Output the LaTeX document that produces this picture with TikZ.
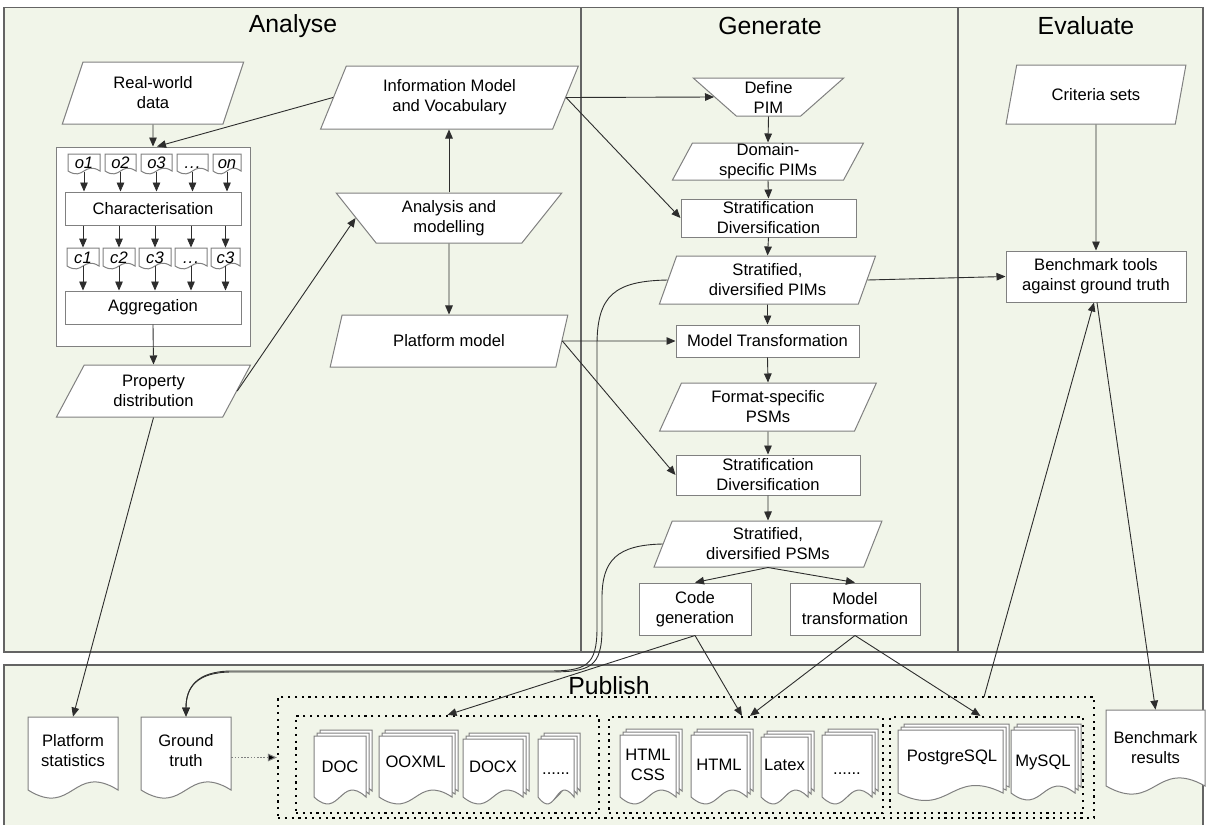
\documentclass[tikz,border=0pt]{standalone}
\usepackage{fontspec}
\setmainfont{Liberation Sans}
\usetikzlibrary{shapes.geometric,arrows.meta,calc}
\definecolor{panelfill}{RGB}{241,245,233}
\definecolor{panelline}{RGB}{100,100,100}
\definecolor{boxline}{RGB}{128,128,128}
\definecolor{conn}{RGB}{45,45,45}
\newcommand\docpg[5]{\draw[docline] (#1,#2) -- (#3,#2) -- (#3,#4) .. controls ({(#1+#3)/2},{#4-#5}) and ({(#1+#3)/2},{#4+#5}) .. (#1,#4) -- cycle;}
\newcommand\docstack[5]{%
 \docpg{#1+6}{#2}{#3}{#4-6}{#5}%
 \docpg{#1+3}{#2+3}{#3-3}{#4-3}{#5}%
 \docpg{#1}{#2+6}{#3-6}{#4}{#5}}
\tikzset{
 panel/.style={draw=panelline, fill=panelfill, line width=0.6pt},
 ptitle/.style={font=\fontsize{12.4}{14}\selectfont, inner sep=0},
 txt/.style={font=\fontsize{8.3}{10}\selectfont, align=center, inner sep=0},
 box/.style={txt, draw=boxline, fill=white, line width=0.5pt},
 rbox/.style={box, rectangle},
 para/.style 2 args={box, trapezium, trapezium stretches=true, trapezium left angle=#1, trapezium right angle=#2},
 docline/.style={draw=boxline, fill=white, line width=0.5pt},
 sdoc/.style={font=\fontsize{8.3}{10}\selectfont\itshape, inner sep=0, text height=6pt, text depth=0pt, minimum width=15pt, minimum height=9pt},
 dbox/.style={draw=black, line width=1.1pt, dash pattern=on 1.1pt off 2.3pt, inner sep=0},
 ln/.style={draw=conn, line width=0.45pt},
 arr/.style={ln, -{Triangle[length=4.5pt,width=3.8pt]}},
 dotarr/.style={draw=gray, line width=0.5pt, dash pattern=on 0.8pt off 0.8pt, -{Triangle[length=4.5pt,width=3.8pt,fill=black]}},
}
\begin{document}
\begin{tikzpicture}[x=0.5pt,y=-0.5pt]
\useasboundingbox (0,0) rectangle (1207,825);
% panels
\path[panel] (4,7.5) rectangle (581,652);
\path[panel] (581,7.5) rectangle (958,652);
\path[panel] (958,7.5) rectangle (1203,652);
\path[panel] (4,665) rectangle (1203,832);
\node[ptitle] (tA) at (293,26) {Analyse};
\node[ptitle] (tG) at (770,26) {Generate};
\node[ptitle] (tE) at (1086,26) {Evaluate};
\node[ptitle] (tP) at (609,686) {Publish};

% ---------- Analyse ----------
\node[para={70}{110}, minimum width=91pt, minimum height=31pt] (rw) at (153,93) {Real-world\\data};
\node[rbox, minimum width=97pt, minimum height=99.5pt] (cont) at (153,246.5) {};
\docpg{68}{154}{100}{171}{10}\node[sdoc] (o1) at (84,162.5) {o1};
\docpg{105}{154}{136}{171}{10}\node[sdoc] (o2) at (120.5,162.5) {o2};
\docpg{141}{154}{172}{171}{10}\node[sdoc] (o3) at (156.5,162.5) {o3};
\docpg{177}{154}{208}{171}{10}\node[sdoc] (o4) at (192.5,162.5) {.\kern0.5pt.\kern0.5pt.};
\docpg{213}{154}{241}{171}{10}\node[sdoc] (o5) at (227,162.5) {on};
\node[rbox, minimum width=88pt, minimum height=16.5pt] (char) at (153,208.5) {Characterisation};
\docpg{67}{248}{99}{266}{10}\node[sdoc] (c1) at (83,257) {c1};
\docpg{103}{248}{135}{266}{10}\node[sdoc] (c2) at (119,257) {c2};
\docpg{139}{248}{171}{266}{10}\node[sdoc] (c3) at (155,257) {c3};
\docpg{175}{248}{207}{266}{10}\node[sdoc] (c4) at (191,257) {.\kern0.5pt.\kern0.5pt.};
\docpg{211}{248}{240}{266}{10}\node[sdoc] (c5) at (225.5,257) {c3};
\node[rbox, minimum width=88pt, minimum height=16.5pt] (agg) at (153,307.5) {Aggregation};
\node[para={63}{117}, minimum width=97.5pt, minimum height=26pt] (prop) at (153.5,391) {Property\\distribution};
\node[para={65}{115}, minimum width=129.5pt, minimum height=31.5pt] (info) at (449.5,97.5) {Information Model\\and Vocabulary};
\node[para={126}{126}, minimum width=113pt, minimum height=25pt] (anal) at (449,218) {Analysis and\\modelling};
\node[para={63}{117}, minimum width=119pt, minimum height=26pt] (plat) at (449,341) {Platform model};

% ---------- Generate ----------
\node[para={135}{135}, minimum width=75.5pt, minimum height=19pt] (define) at (768.5,97) {Define\\PIM};
\node[para={70}{110}, minimum width=96pt, minimum height=18.5pt] (dom) at (768,161.5) {Domain-\\specific PIMs};
\node[rbox, minimum width=87.5pt, minimum height=19pt] (sd1) at (768.5,218) {Stratification\\Diversification};
\node[para={71}{109}, minimum width=108.5pt, minimum height=24pt] (spim) at (767.5,280) {Stratified,\\diversified PIMs};
\node[rbox, minimum width=91.5pt, minimum height=16pt] (mt) at (767.5,341) {Model Transformation};
\node[para={66}{114}, minimum width=109pt, minimum height=24pt] (fsp) at (768,407) {Format-specific\\PSMs};
\node[rbox, minimum width=92pt, minimum height=20pt] (sd2) at (768,475) {Stratification\\Diversification};
\node[para={70}{110}, minimum width=114pt, minimum height=23pt] (spsm) at (768,544) {Stratified,\\diversified PSMs};
\node[rbox, minimum width=56pt, minimum height=26pt] (cg) at (695,609) {Code\\generation};
\node[rbox, minimum width=65pt, minimum height=26pt] (mtr) at (855,609) {Model\\transformation};

% ---------- Evaluate ----------
\node[para={64}{116}, minimum width=90pt, minimum height=29.5pt] (crit) at (1096,94.5) {Criteria sets};
\node[rbox, minimum width=90pt, minimum height=25.5pt] (bench) at (1096,276.5) {Benchmark tools\\against ground truth};

% ---------- Publish ----------
\docpg{28}{717}{118}{790}{28}
\node[txt, minimum width=45pt, minimum height=33.5pt] (pstat) at (73,750.5) {Platform\\statistics};
\docpg{141}{717}{231}{790}{28}
\node[txt, minimum width=45pt, minimum height=33.5pt] (gt) at (186,750.5) {Ground\\truth};
\docpg{1106}{710}{1205}{786}{28}
\node[txt, minimum width=49.5pt, minimum height=38pt] (bres) at (1155.5,748) {Benchmark\\results};

\node[dbox, minimum width=408pt, minimum height=60.5pt] (outer) at (686,757.5) {};
\node[dbox, minimum width=151.5pt, minimum height=48.5pt] (box1) at (447.5,764.5) {};
\node[dbox, minimum width=137pt, minimum height=48pt] (box2) at (746,765) {};
\node[dbox, minimum width=96.5pt, minimum height=48pt] (box3) at (986.5,765) {};
\coordinate (pubout) at (984,697);

\docstack{314}{730}{372}{797}{24}\node[txt] (sdoc) at (340,767) {DOC};
\docstack{379}{730}{458}{797}{24}\node[txt] (sooxml) at (415.5,762) {OOXML};
\docstack{463}{733}{529}{797}{24}\node[txt] (sdocx) at (493,767) {DOCX};
\docstack{538}{733}{580}{797}{24}\node[txt, text height=6pt, text depth=0pt] (sdots1) at (556,768) {......};
\docstack{620}{729}{682}{797}{24}\node[txt] (shtmlcss) at (648,765) {HTML\\CSS};
\docstack{691}{729}{753}{797}{24}\node[txt] (shtml) at (719,765) {HTML};
\docstack{761}{731}{814}{797}{24}\node[txt] (slatex) at (784.5,765) {Latex};
\docstack{822}{729}{878}{797}{24}\node[txt, text height=6pt, text depth=0pt] (sdots2) at (847,768) {......};
\docstack{898}{724}{1009}{793}{26}\node[txt] (spg) at (952,757) {PostgreSQL};
\docstack{1011}{724}{1081}{793}{24}\node[txt] (smy) at (1043,762) {MySQL};

% ---------- connectors ----------
\draw[arr] (rw.south) -- (cont.north);
\draw[arr] (info.west) -- ([xshift=2pt]cont.north);
\foreach \i in {1,...,5} {
  \draw[arr] (o\i.south) -- (o\i.south |- char.north);
  \draw[arr] (char.south -| c\i) -- (c\i.north);
  \draw[arr] (c\i.south) -- (c\i.south |- agg.north);
}
\draw[arr] (agg.south) -- (prop.north);
\draw[arr] (anal.north) -- (anal.north |- info.south);
\draw[arr] (anal.south) -- (plat.north);
\draw[arr] (prop.east) -- (anal.west);
\draw[arr] (prop.south) -- (pstat.north);
\draw[arr] (info.east) -- (define.west);
\draw[arr] (info.east) -- (sd1.west);
\draw[arr] (define.south) -- (dom.north);
\draw[arr] (dom.south) -- (sd1.north);
\draw[arr] (sd1.south) -- (spim.north);
\draw[arr] (spim.south) -- (mt.north);
\draw[arr] (plat.east) -- (mt.west);
\draw[arr] (plat.east) -- (sd2.west);
\draw[arr] (mt.south) -- (fsp.north);
\draw[arr] (fsp.south) -- (sd2.north);
\draw[arr] (sd2.south) -- (spsm.north);
\draw[arr] (spsm.south) -- (cg.north);
\draw[arr] (spsm.south) -- (mtr.north);
\draw[arr] (spim.east) -- (bench.west);
\draw[arr] (crit.south) -- (bench.north);
\draw[arr] (cg.south) -- (box1.north);
\draw[arr] (cg.south) -- ([xshift=-2pt]box2.north);
\draw[arr] (mtr.south) -- ([xshift=2pt]box2.north);
\draw[arr] (mtr.south) -- ([xshift=-3pt]box3.north);
\draw[arr] (pubout) -- ([xshift=-1pt]bench.south);
\draw[arr] ([xshift=0.5pt]bench.south) -- (bres.north);
\draw[dotarr] (gt.east |- outer.west) -- (outer.west);
\draw[arr] (spim.west) .. controls (615,281) and (597,295) .. (597,345) -- (597,628) .. controls (597,666) and (586,671) .. (548,671) -- (232,671) .. controls (196,671) and (186,688) .. (gt.north);
\draw[arr] (spsm.west) .. controls (617,545) and (602,560) .. (602,598) -- (602,628) .. controls (602,668) and (590,672) .. (548,672) -- (232,672) .. controls (196,672) and (186,688) .. (gt.north);
\end{tikzpicture}
\end{document}
